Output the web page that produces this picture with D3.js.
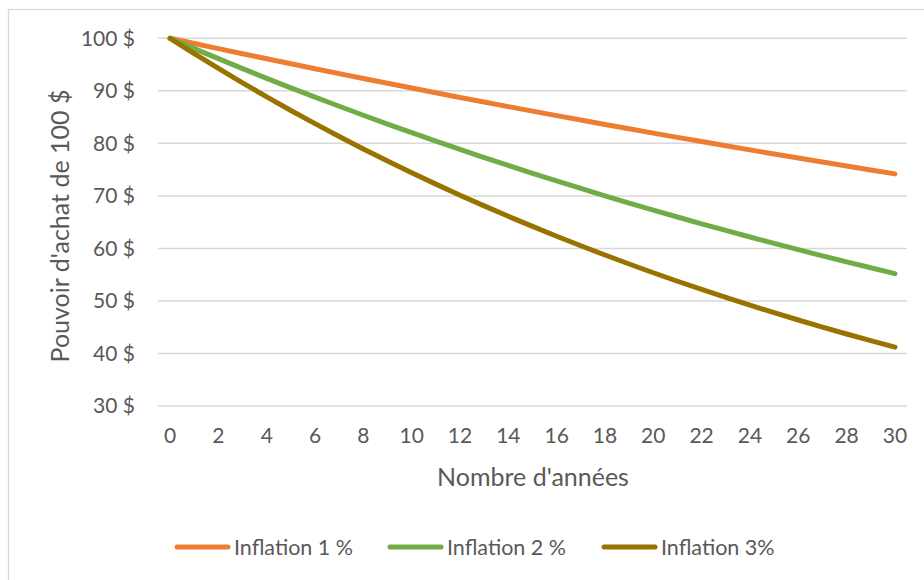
<!DOCTYPE html>
<html>
<head>
<meta charset="utf-8">
<script src="https://cdn.jsdelivr.net/npm/d3@7"></script>
<style>
  html, body { margin: 0; padding: 0; background: #fff; }
  svg { display: block; font-family: Lato, "Open Sans", sans-serif; }
</style>
</head>
<body>
<svg id="chart" width="924" height="580"></svg>
<script>
// Years since purchase (category axis)
const years = d3.range(0, 31);
const xTickLabels = [0, 2, 4, 6, 8, 10, 12, 14, 16, 18, 20, 22, 24, 26, 28, 30];
const yTickValues = [30, 40, 50, 60, 70, 80, 90, 100];

// Purchasing power of 100 $ after each year
const inflation1 = [100, 99.01, 98.03, 97.06, 96.10, 95.15, 94.20, 93.27, 92.35, 91.43,
  90.53, 89.63, 88.74, 87.87, 87.00, 86.13, 85.28, 84.44, 83.60, 82.77,
  81.95, 81.14, 80.34, 79.54, 78.76, 77.98, 77.20, 76.44, 75.68, 74.93, 74.19];
const inflation2 = [100, 98.04, 96.12, 94.23, 92.38, 90.57, 88.80, 87.06, 85.35, 83.68,
  82.03, 80.43, 78.85, 77.30, 75.79, 74.30, 72.84, 71.42, 70.02, 68.64,
  67.30, 65.98, 64.68, 63.42, 62.17, 60.95, 59.76, 58.59, 57.44, 56.31, 55.21];
const inflation3 = [100, 97.09, 94.26, 91.51, 88.85, 86.26, 83.75, 81.31, 78.94, 76.64,
  74.41, 72.24, 70.14, 68.10, 66.11, 64.19, 62.32, 60.50, 58.74, 57.03,
  55.37, 53.75, 52.19, 50.67, 49.19, 47.76, 46.37, 45.02, 43.71, 42.43, 41.20];

const seriesNames = ["Inflation 1 %", "Inflation 2 %", "Inflation 3%"];
const seriesColors = ["#ED7D31", "#70AD47", "#997300"];
const series = [inflation1, inflation2, inflation3];

const svg = d3.select("#chart");
const textColor = "#595959";
const gridColor = "#d9d9d9";

// Chart frame
svg.append("rect")
  .attr("x", 8.5).attr("y", 9.5)
  .attr("width", 930).attr("height", 590)
  .attr("fill", "none").attr("stroke", gridColor).attr("stroke-width", 1.3);

const plot = { left: 158, right: 907, top: 38.3, bottom: 406 };

const x = d3.scaleBand().domain(years).range([plot.left, plot.right]);
const xc = d => x(d) + x.bandwidth() / 2;
const y = d3.scaleLinear().domain([30, 100]).range([plot.bottom, plot.top]);

// Horizontal gridlines
svg.append("g")
  .selectAll("line").data(yTickValues).join("line")
  .attr("x1", plot.left).attr("x2", plot.right)
  .attr("y1", d => y(d)).attr("y2", d => y(d))
  .attr("stroke", gridColor).attr("stroke-width", 1.5);

// Y axis labels
const yAxis = d3.axisLeft(y).tickValues(yTickValues).tickSize(0).tickPadding(0)
  .tickFormat(d => d + " $");
svg.append("g")
  .attr("transform", `translate(${135},0)`)
  .call(yAxis)
  .call(g => g.select(".domain").remove())
  .call(g => g.selectAll("text")
    .attr("fill", textColor).attr("font-size", 21)
    .attr("font-family", "Lato, sans-serif"));

// X axis labels
const xAxis = d3.axisBottom(x).tickValues(xTickLabels).tickSize(0).tickPadding(0);
svg.append("g")
  .attr("transform", `translate(0,${plot.bottom + 22})`)
  .call(xAxis)
  .call(g => g.select(".domain").remove())
  .call(g => g.selectAll("text")
    .attr("fill", textColor).attr("font-size", 21)
    .attr("font-family", "Lato, sans-serif"));

// Lines
const line = d3.line().x((d, i) => xc(years[i])).y(d => y(d));
svg.append("g")
  .selectAll("path").data(series).join("path")
  .attr("d", d => line(d))
  .attr("fill", "none")
  .attr("stroke", (d, i) => seriesColors[i])
  .attr("stroke-width", 5)
  .attr("stroke-linecap", "round")
  .attr("stroke-linejoin", "round");

// Axis titles
svg.append("text")
  .attr("x", 533).attr("y", 486)
  .attr("text-anchor", "middle")
  .attr("fill", textColor).attr("font-size", 25)
  .text("Nombre d'années");

svg.append("text")
  .attr("transform", `translate(69,${226}) rotate(-90)`)
  .attr("text-anchor", "middle")
  .attr("fill", textColor).attr("font-size", 25)
  .text("Pouvoir d'achat de 100 $");

// Legend
const legendX = [175, 388, 602];
const legend = svg.append("g");
seriesNames.forEach((name, i) => {
  const g = legend.append("g").attr("transform", `translate(${legendX[i]},547)`);
  g.append("line")
    .attr("x1", 2).attr("x2", 53).attr("y1", 0).attr("y2", 0)
    .attr("stroke", seriesColors[i]).attr("stroke-width", 5)
    .attr("stroke-linecap", "round");
  g.append("text")
    .attr("x", 59).attr("y", 8)
    .attr("fill", textColor).attr("font-size", 21.5)
    .text(name);
});
</script>
</body>
</html>
